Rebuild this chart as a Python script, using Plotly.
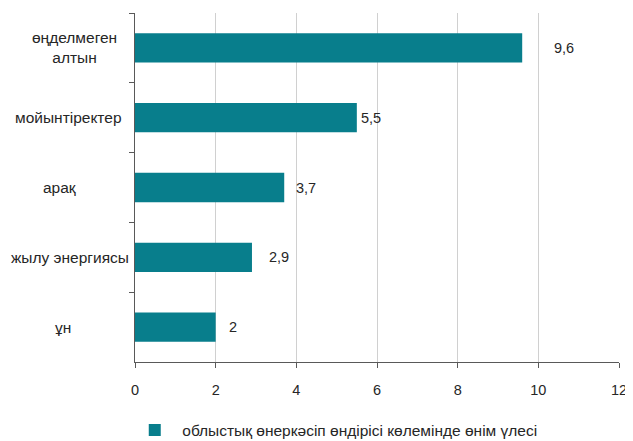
import plotly.graph_objects as go

categories = ["өңделмеген<br>алтын", "мойынтіректер", "арақ", "жылу энергиясы", "ұн"]
values = [9.6, 5.5, 3.7, 2.9, 2.0]
value_labels = ["9,6", "5,5", "3,7", "2,9", "2"]
series_name = "облыстық өнеркәсіп өндірісі көлемінде өнім үлесі"
x_ticks = [0, 2, 4, 6, 8, 10, 12]

label_shift = [42, 14, 22, 27, 17]
cat_label_x = [-0.125, -0.138, -0.155, -0.135, -0.149]

FONT = "Liberation Sans, Arial, sans-serif"
FS = 14.5
FS_CAT = 15.5
TXT = "#262626"
BAR = "#087E8C"

fig = go.Figure()
fig.add_trace(go.Bar(
    x=values, y=categories, orientation="h",
    marker=dict(color=BAR, line=dict(width=0)),
    name=series_name, showlegend=True,
    hoverinfo="x+y",
))

for c, v, t, s in zip(categories, values, value_labels, label_shift):
    fig.add_annotation(x=v, y=c, xref="x", yref="y", text=t, showarrow=False,
                       xanchor="center", xshift=s,
                       font=dict(family=FONT, size=FS, color=TXT))

for c, px in zip(categories, cat_label_x):
    fig.add_annotation(x=px, y=c, xref="paper", yref="y", text=c, showarrow=False,
                       xanchor="center", align="center",
                       font=dict(family=FONT, size=FS_CAT, color=TXT))

fig.update_layout(
    width=625, height=433,
    margin=dict(l=127, r=14, t=5, b=79, autoexpand=False),
    paper_bgcolor="white", plot_bgcolor="white",
    bargap=0.58,
    font=dict(family=FONT, size=FS, color=TXT),
    showlegend=True,
    legend=dict(orientation="h", x=-0.016, xanchor="left", y=-0.196, yanchor="middle",
                font=dict(family=FONT, size=FS_CAT, color=TXT), itemwidth=45),
)
fig.update_xaxes(
    range=[0, 12], tickvals=x_ticks, ticktext=[str(v) for v in x_ticks],
    showgrid=True, gridcolor="#d0d0d0", gridwidth=1,
    showline=True, linecolor="#595959", linewidth=1,
    ticks="outside", ticklen=5, tickcolor="#595959",
    tickfont=dict(family=FONT, size=FS, color=TXT),
    ticklabelstandoff=10, zeroline=False, automargin=False,
)
fig.update_yaxes(
    type="category", categoryorder="array", categoryarray=categories,
    autorange="reversed",
    showticklabels=False, showgrid=False,
    showline=True, linecolor="#595959", linewidth=1,
    ticks="outside", ticklen=5, tickcolor="#595959", tickson="boundaries",
    zeroline=False, automargin=False,
)

fig.write_html("out.html")
